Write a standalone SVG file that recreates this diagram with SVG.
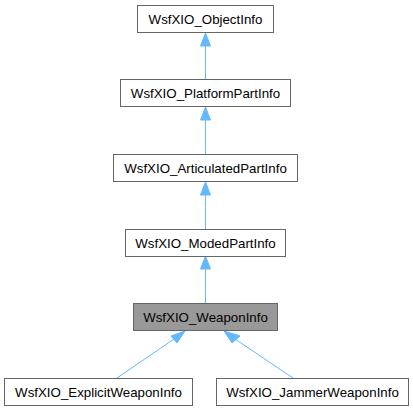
<svg xmlns="http://www.w3.org/2000/svg" width="413" height="411" viewBox="0 0 413 411">
<style>
.box{fill:#ffffff;stroke:#666666;stroke-width:1}
.hl{fill:#999999;stroke:#666666;stroke-width:1}
.lbl{font-family:"Liberation Sans",Arial,sans-serif;font-size:13.3px;fill:#000000;text-anchor:middle}
.edge{stroke:#63b8ff;stroke-width:1;fill:none}
.head{fill:#63b8ff;stroke:#63b8ff;stroke-width:1}
</style>
<rect width="413" height="411" fill="#ffffff"/>
<g id="connectors">
<path class="edge" d="M205.5,79 L205.5,46"/>
<polygon class="head" points="205.5,33 210.5,46 200.5,46"/>
<path class="edge" d="M205.5,154 L205.5,120"/>
<polygon class="head" points="205.5,107 210.5,120 200.5,120"/>
<path class="edge" d="M205.5,229 L205.5,195"/>
<polygon class="head" points="205.5,182 210.5,195 200.5,195"/>
<path class="edge" d="M205.5,303 L205.5,269"/>
<polygon class="head" points="205.5,256 210.5,269 200.5,269"/>
<path class="edge" d="M117,378 L174,339"/>
<polygon class="head" points="185,331 177,343 171,336"/>
<path class="edge" d="M293,378 L235,339"/>
<polygon class="head" points="224,331 240,336 232,343"/>
</g>
<g id="node-objectinfo">
<rect class="box" x="137.5" y="5.5" width="136" height="27"/>
<text class="lbl" x="205.5" y="23.5">WsfXIO_ObjectInfo</text>
</g>
<g id="node-platformpartinfo">
<rect class="box" x="120.5" y="79.5" width="170" height="27"/>
<text class="lbl" x="205.5" y="97.5">WsfXIO_PlatformPartInfo</text>
</g>
<g id="node-articulatedpartinfo">
<rect class="box" x="113.5" y="154.5" width="184" height="27"/>
<text class="lbl" x="205.5" y="172.5">WsfXIO_ArticulatedPartInfo</text>
</g>
<g id="node-modedpartinfo">
<rect class="box" x="125.5" y="229.5" width="160" height="27"/>
<text class="lbl" x="205.5" y="247.5">WsfXIO_ModedPartInfo</text>
</g>
<g id="node-weaponinfo">
<rect class="hl" x="133.5" y="303.5" width="144" height="27"/>
<text class="lbl" x="205.5" y="321.5">WsfXIO_WeaponInfo</text>
</g>
<g id="node-explicitweaponinfo">
<rect class="box" x="4.5" y="378.5" width="188" height="27"/>
<text class="lbl" x="98.5" y="396.5">WsfXIO_ExplicitWeaponInfo</text>
</g>
<g id="node-jammerweaponinfo">
<rect class="box" x="216.5" y="378.5" width="192" height="27"/>
<text class="lbl" x="312.5" y="396.5">WsfXIO_JammerWeaponInfo</text>
</g>
</svg>
